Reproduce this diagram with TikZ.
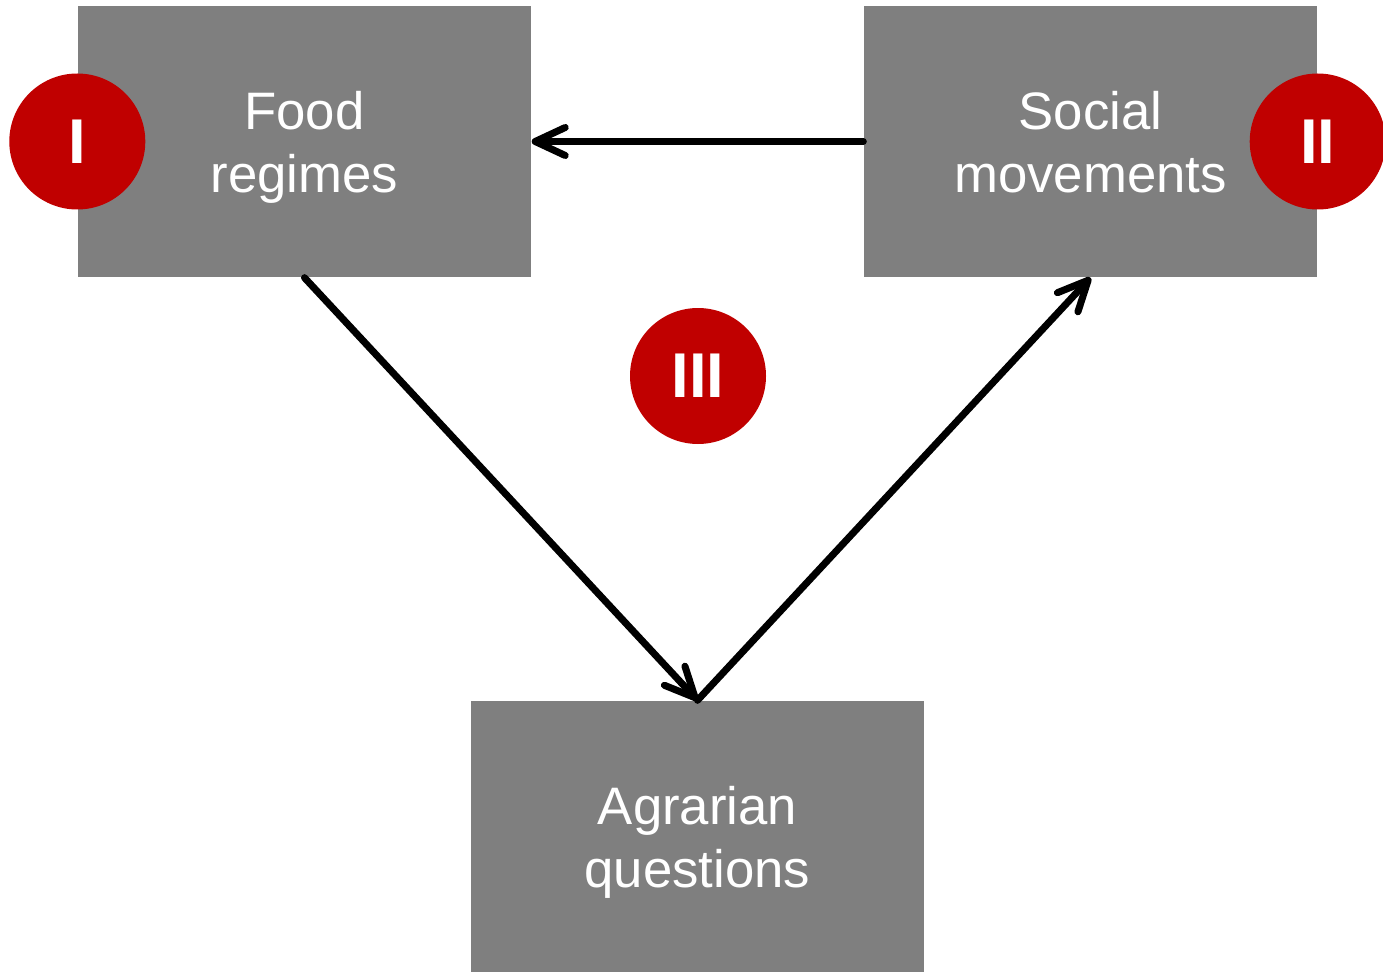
\documentclass[tikz,border=0pt]{standalone}
\usepackage{fontspec}
\setmainfont{Liberation Sans}
\usetikzlibrary{arrows.meta}
\tikzset{>={Straight Barb[length=3mm,width=2.8mm,round]}}
\definecolor{boxgray}{RGB}{127,127,127}
\definecolor{markred}{RGB}{192,0,0}

\begin{document}
\begin{tikzpicture}[
    box/.style={fill=boxgray, minimum width=4.53cm, minimum height=2.71cm,
      inner sep=0pt, text=white, align=center, text depth=0pt,
      font=\fontsize{15}{17.9}\selectfont},
    badge/.style={circle, fill=markred, minimum size=1.36cm, inner sep=0pt,
      text=white, font=\fontsize{18}{18}\selectfont\bfseries},
    link/.style={->, line width=2pt, line cap=round}]

  \useasboundingbox (0,0) rectangle (13.83,-9.73);

  % boxes
  \node[box] (food) at (3.045,-1.415) {Food\\regimes};
  \node[box] (social) at (10.905,-1.415) {Social\\movements};
  \node[box] (agrarian) at (6.975,-8.365) {Agrarian\\questions};

  % arrows
  \draw[link] (social.west) -- (food.east);
  \draw[link] (food.south) -- (agrarian.north);
  \draw[link] (agrarian.north) -- (social.south);

  % numbers
  \node[badge] (one) at (food.west) {I};
  \node[badge] (two) at (social.east) {II};
  \node[badge] (three) at (6.98,-3.76) {III};

\end{tikzpicture}
\end{document}
